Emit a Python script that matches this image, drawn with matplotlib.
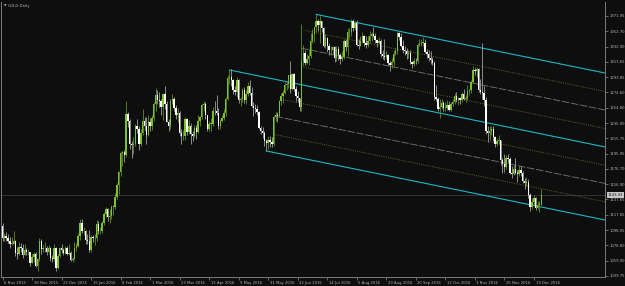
import matplotlib
matplotlib.use("Agg")
import matplotlib.pyplot as plt
import numpy as np

# ---------------- data ----------------
opens = [1104,
 1088,1091,1088,1085,1081, 1081,1084,1069,1068,1077, 1076,1067,1073,1070,1070,
 1056,1064,1068,1053,1061, 1085,1074,1075,1076,1071, 1075,1063,1061,1076,1050,
 1065,1075,1073,1069, 1075,1068,1069,1060, 1061,1075,1078,1091,1108,
 1097,1097,1086,1085,1073, 1090,1088,1088,1106,1097, 1097,1108,1119,1125,1115,
 1117,1128,1128,1141,1156, 1173,1197,1198,1194,1247, 1238,1209,1207,1209,1232,
 1228,1209,1222,1238,1232, 1220,1237,1231,1241,1259, 1271,1265,1263,1256,1272,
 1259,1237,1232,1263,1266, 1255,1245,1248,1222, 1218,1219,1240,1224,1232,
 1221,1218,1229,1224,1238, 1243,1258,1260,1245,1227, 1234,1234,1251,1250,1248,
 1231,1238,1242,1248,1266, 1293,1294,1290,1278,1275, 1290,1264,1266,1277,1264,
 1272,1283,1274,1257,1254, 1253,1249,1229,1225,1222, 1212,1210,1214,1211,1208,
 1243,1246,1244,1263,1270, 1274,1284,1285,1296,1279, 1298,1279,1270,1267,1256,
 1315,1325,1312,1317,1321, 1340,1349,1358,1366,1360, 1366,1356,1334,1344,1333,
 1328,1329,1332,1318,1330, 1322,1317,1320,1340,1332, 1351,1351,1366,1356,1363,
 1335,1334,1340,1346,1337, 1335,1340,1346,1349,1347, 1341,1338,1340,1324,1321,
 1320,1322,1312,1309,1313, 1323,1327,1350,1345,1334, 1328,1327,1323,1325,1313,
 1310,1315,1314,1335,1336, 1338,1338,1326,1323,1318, 1316,1312,1268,1266,1253,
 1256,1261,1254,1254,1258, 1252,1259,1262,1270,1265, 1267,1264,1272,1266,1267,
 1276,1277,1288,1303,1302, 1304,1278,1275,1274,1265, 1225,1222,1225,1227,1217,
 1209,1212,1213,1188,1183, 1179,1191,1189,1171,1170, 1177,1171,1170,1175,1171,
 1161,1158,1160,1143,1128, 1134,1140,1127,1131,1131]
highs = [1108,
 1095,1096,1093,1090,1089, 1097,1086,1077,1083,1082, 1080,1080,1075,1074,1071,
 1068,1071,1070,1063,1088, 1087,1079,1083,1078,1079, 1077,1067,1081,1077,1068,
 1077,1080,1076,1078, 1078,1080,1072,1064, 1083,1082,1095,1112,1113,
 1102,1099,1094,1098,1092, 1092,1094,1111,1110,1102, 1110,1121,1128,1127,1125,
 1130,1131,1146,1158,1174, 1200,1199,1201,1263,1249, 1240,1212,1217,1234,1240,
 1231,1228,1253,1243,1243, 1245,1241,1246,1262,1280, 1278,1275,1266,1273,1283,
 1263,1240,1266,1272,1268, 1258,1254,1250,1228, 1226,1243,1241,1239,1235,
 1225,1233,1233,1246,1244, 1261,1263,1262,1246,1238, 1241,1256,1263,1271,1255,
 1240,1246,1253,1268,1297, 1303,1304,1292,1282,1294, 1291,1269,1280,1281,1277,
 1287,1290,1281,1262,1259, 1258,1251,1231,1230,1225, 1215,1218,1218,1217,1245,
 1249,1249,1264,1273,1277, 1287,1289,1297,1315,1299, 1299,1283,1276,1267,1362,
 1335,1328,1324,1330,1350, 1355,1358,1375,1368,1372, 1366,1358,1349,1345,1338,
 1333,1334,1334,1334,1333, 1325,1327,1342,1343,1357, 1356,1368,1368,1366,1367,
 1342,1347,1352,1348,1346, 1346,1353,1352,1358,1350, 1343,1345,1342,1328,1342,
 1327,1324,1314,1318,1329, 1331,1352,1352,1350,1341, 1333,1331,1328,1328,1315,
 1318,1318,1338,1343,1342, 1345,1342,1330,1328,1327, 1319,1314,1284,1269,1266,
 1266,1263,1262,1264,1263, 1262,1266,1274,1275,1269, 1268,1275,1279,1271,1284,
 1279,1290,1308,1306,1307, 1305,1291,1337,1283,1269, 1232,1232,1232,1231,1219,
 1216,1220,1214,1191,1196, 1194,1196,1192,1180,1182, 1190,1175,1180,1180,1174,
 1165,1166,1164,1146,1139, 1143,1141,1135,1135,1151]
lows = [1085,
 1084,1085,1082,1076,1079, 1080,1065,1062,1066,1071, 1063,1066,1067,1067,1052,
 1056,1058,1051,1046,1059, 1068,1070,1071,1067,1068, 1059,1057,1059,1046,1049,
 1064,1069,1066,1068, 1067,1066,1059,1057, 1060,1072,1077,1086,1095,
 1092,1081,1080,1071,1071, 1083,1079,1084,1094,1094, 1095,1105,1115,1110,1107,
 1113,1118,1125,1138,1145, 1168,1180,1185,1192,1230, 1202,1191,1196,1206,1222,
 1201,1206,1220,1226,1208, 1219,1225,1226,1238,1250, 1260,1256,1245,1239,1253,
 1236,1225,1228,1259,1250, 1240,1237,1219,1208, 1213,1214,1220,1221,1208,
 1212,1217,1215,1222,1232, 1240,1250,1240,1225,1225, 1225,1232,1245,1245,1227,
 1228,1236,1239,1244,1264, 1285,1283,1272,1271,1269, 1261,1257,1262,1261,1260,
 1270,1271,1256,1244,1248, 1245,1227,1221,1216,1206, 1199,1202,1205,1204,1206,
 1238,1237,1243,1258,1261, 1272,1278,1280,1273,1278, 1276,1263,1262,1251,1250,
 1309,1309,1311,1309,1318, 1338,1339,1351,1353,1337, 1351,1332,1331,1326,1322,
 1322,1324,1313,1314,1316, 1311,1314,1317,1327,1321, 1344,1347,1353,1354,1334,
 1330,1333,1338,1333,1331, 1332,1338,1340,1345,1337, 1332,1336,1320,1317,1316,
 1317,1309,1302,1305,1308, 1322,1324,1341,1332,1325, 1322,1317,1318,1311,1306,
 1308,1310,1312,1333,1334, 1334,1325,1318,1314,1310, 1309,1265,1263,1251,1242,
 1253,1250,1251,1252,1250, 1250,1257,1259,1262,1258, 1260,1262,1264,1262,1265,
 1271,1274,1286,1296,1294, 1275,1272,1266,1257,1221, 1211,1214,1220,1212,1204,
 1206,1209,1182,1171,1172, 1176,1184,1170,1165,1169, 1170,1160,1167,1167,1158,
 1151,1155,1139,1123,1125, 1130,1124,1125,1122,1130]
closes = [1088,
 1091,1088,1085,1081,1081, 1084,1069,1068,1077,1076, 1067,1073,1070,1070,1056,
 1064,1068,1053,1061,1085, 1074,1075,1076,1071,1075, 1063,1061,1076,1050,1065,
 1075,1073,1069,1075, 1068,1069,1060,1061, 1075,1078,1091,1108,1097,
 1097,1086,1085,1073,1090, 1088,1088,1106,1097,1097, 1108,1119,1125,1115,1117,
 1128,1128,1141,1156,1173, 1197,1198,1194,1247,1238, 1209,1207,1209,1232,1228,
 1209,1222,1238,1232,1220, 1237,1231,1241,1259,1271, 1265,1263,1256,1272,1259,
 1237,1232,1263,1266,1255, 1245,1248,1222,1218, 1219,1240,1224,1232,1221,
 1218,1229,1224,1238,1243, 1258,1260,1245,1227,1234, 1234,1251,1250,1248,1231,
 1238,1242,1248,1266,1293, 1294,1290,1278,1275,1290, 1264,1266,1277,1264,1272,
 1283,1274,1257,1254,1253, 1249,1229,1225,1222,1212, 1210,1214,1211,1208,1243,
 1246,1244,1263,1270,1274, 1284,1285,1296,1279,1298, 1279,1270,1267,1256,1315,
 1325,1312,1317,1321,1340, 1349,1358,1366,1360,1366, 1356,1334,1344,1333,1328,
 1329,1332,1318,1330,1322, 1317,1320,1340,1332,1351, 1351,1366,1356,1363,1335,
 1334,1340,1346,1337,1335, 1340,1346,1349,1347,1341, 1338,1340,1324,1321,1320,
 1322,1312,1309,1313,1323, 1327,1350,1345,1334,1328, 1327,1323,1325,1313,1310,
 1315,1314,1335,1336,1338, 1338,1326,1323,1318,1316, 1312,1268,1266,1253,1256,
 1261,1254,1254,1258,1252, 1259,1262,1270,1265,1267, 1264,1272,1266,1267,1276,
 1277,1288,1303,1302,1304, 1278,1275,1274,1265,1225, 1222,1225,1227,1217,1209,
 1212,1213,1188,1183,1179, 1191,1189,1171,1170,1177, 1171,1170,1175,1171,1161,
 1158,1160,1143,1128,1134, 1140,1127,1131,1131,1143]

date_labels = ["6 Nov 2015", "30 Nov 2015", "22 Dec 2015", "15 Jan 2016", "8 Feb 2016",
               "1 Mar 2016", "23 Mar 2016", "15 Apr 2016", "9 May 2016", "31 May 2016",
               "22 Jun 2016", "14 Jul 2016", "5 Aug 2016", "29 Aug 2016", "20 Sep 2016",
               "12 Oct 2016", "3 Nov 2016", "25 Nov 2016", "19 Dec 2016"]
date_label_bars = [0, 16, 32, 48, 64, 80, 96, 112, 128, 144, 160, 176, 192, 208, 224, 240, 256, 272, 288]
price_ticks = [1371.95, 1352.70, 1332.90, 1313.65, 1293.85, 1274.60, 1254.80, 1235.00, 1215.75,
               1195.95, 1176.70, 1156.90, 1137.65, 1117.85, 1098.05, 1078.80, 1059.00, 1039.75]
current_price = 1143.43

# channel lines: (start bar, start price, end bar, end price)
cyan_lines = [(170, 1374.0, 326.6, 1299.1),
              (123, 1303.0, 326.6, 1204.6),
              (143, 1199.5, 326.6, 1111.3)]
grey_lines = [(162, 1330.8, 326.6, 1251.8),
              (148, 1243.7, 326.6, 1158.0)]
olive_lines = [(164, 1353.5, 326.6, 1275.5),
               (162, 1307.2, 326.6, 1228.2),
               (152, 1265.1, 326.6, 1181.3),
               (148, 1220.3, 326.6, 1134.6)]

# ---------------- drawing ----------------
BG = "#0e0e0e"
FRAME = "#8c8c8c"
TXT = "#b4b4b4"
UP = "#7cc22a"
DOWN = "#ffffff"
UPW = "#5e8f22"
DOWNW = "#a0a0a0"

W, H = 625, 286
fig = plt.figure(figsize=(W / 100, H / 100), dpi=100, facecolor=BG)
ax_l, ax_r, ax_t, ax_b = 1, 605, 2, 277
ax = fig.add_axes([ax_l / W, 1 - ax_b / H, (ax_r - ax_l) / W, (ax_b - ax_t) / H])
ax.set_facecolor(BG)

px_per_bar = 1.845
x0 = -(2.5 - ax_l) / px_per_bar
x1 = x0 + (ax_r - ax_l) / px_per_bar
ax.set_xlim(x0, x1)
pp = (1371.95 - 1039.75) / (276 - 16)
ax.set_ylim(1039.75 - (ax_b - 276) * pp, 1371.95 + (16 - ax_t) * pp)

idx = np.arange(len(closes))
o = np.array(opens, float); h = np.array(highs, float)
l = np.array(lows, float); c = np.array(closes, float)
up = c >= o

ax.axhline(current_price, color="#3a3a3a", lw=0.6, zorder=1)

for ln in grey_lines:
    ax.plot((ln[0], ln[2]), (ln[1], ln[3]), color="#767676", lw=0.6, ls=(0, (9, 2)), zorder=2)
for ln in olive_lines:
    ax.plot((ln[0], ln[2]), (ln[1], ln[3]), color="#6e6b2c", lw=0.6, ls=(0, (1.2, 1.5)), zorder=2)
for ln in cyan_lines:
    ax.plot((ln[0], ln[2]), (ln[1], ln[3]), color="#1cb8c6", lw=0.8, zorder=2)

ax.vlines(idx[up], l[up], h[up], color=UPW, lw=0.6, zorder=3)
ax.vlines(idx[~up], l[~up], h[~up], color=DOWNW, lw=0.6, zorder=3)
bh = np.maximum(np.abs(c - o), 0.8)
bb = np.minimum(o, c)
ax.bar(idx[up], bh[up], bottom=bb[up], width=0.75, color=UP, lw=0, zorder=4)
ax.bar(idx[~up], bh[~up], bottom=bb[~up], width=0.75, color=DOWN, lw=0, zorder=4)

# axes styling
for s in ("left", "bottom", "right"):
    ax.spines[s].set_color(FRAME)
    ax.spines[s].set_linewidth(0.6)
ax.spines["top"].set_visible(False)

ax.yaxis.tick_right()
ax.set_yticks(price_ticks)
ax.set_yticklabels([f"{p:.2f}" for p in price_ticks])
ax.tick_params(axis="y", colors=FRAME, labelcolor=TXT, labelsize=2.7, length=2, width=0.5, pad=1.5)
ax.set_xticks(date_label_bars)
ax.set_xticklabels([])
ax.tick_params(axis="x", colors=FRAME, length=2, width=0.5)
for b, lab in zip(date_label_bars, date_labels):
    ax.annotate(lab, xy=(b, 0), xycoords=("data", "axes fraction"), xytext=(1.2, -4.2),
                textcoords="offset points", fontsize=2.7, color=TXT, ha="left", va="center")

# current price box
ax.annotate(f"{current_price:.2f}", xy=(1, current_price), xycoords=("axes fraction", "data"),
            xytext=(2.0, 0), textcoords="offset points", fontsize=2.7, color="#101010",
            ha="left", va="center",
            bbox=dict(boxstyle="square,pad=0.25", fc="#c8c8c8", ec="none"))

# title
fig.text(5 / W, 1 - 5.5 / H, "\u25bc", fontsize=2.4, color=TXT, ha="center", va="center")
fig.text(8 / W, 1 - 5.5 / H, "GOLD,Daily", fontsize=2.8, color=TXT, ha="left", va="center")

fig.savefig("out.png", dpi=100, facecolor=BG)
